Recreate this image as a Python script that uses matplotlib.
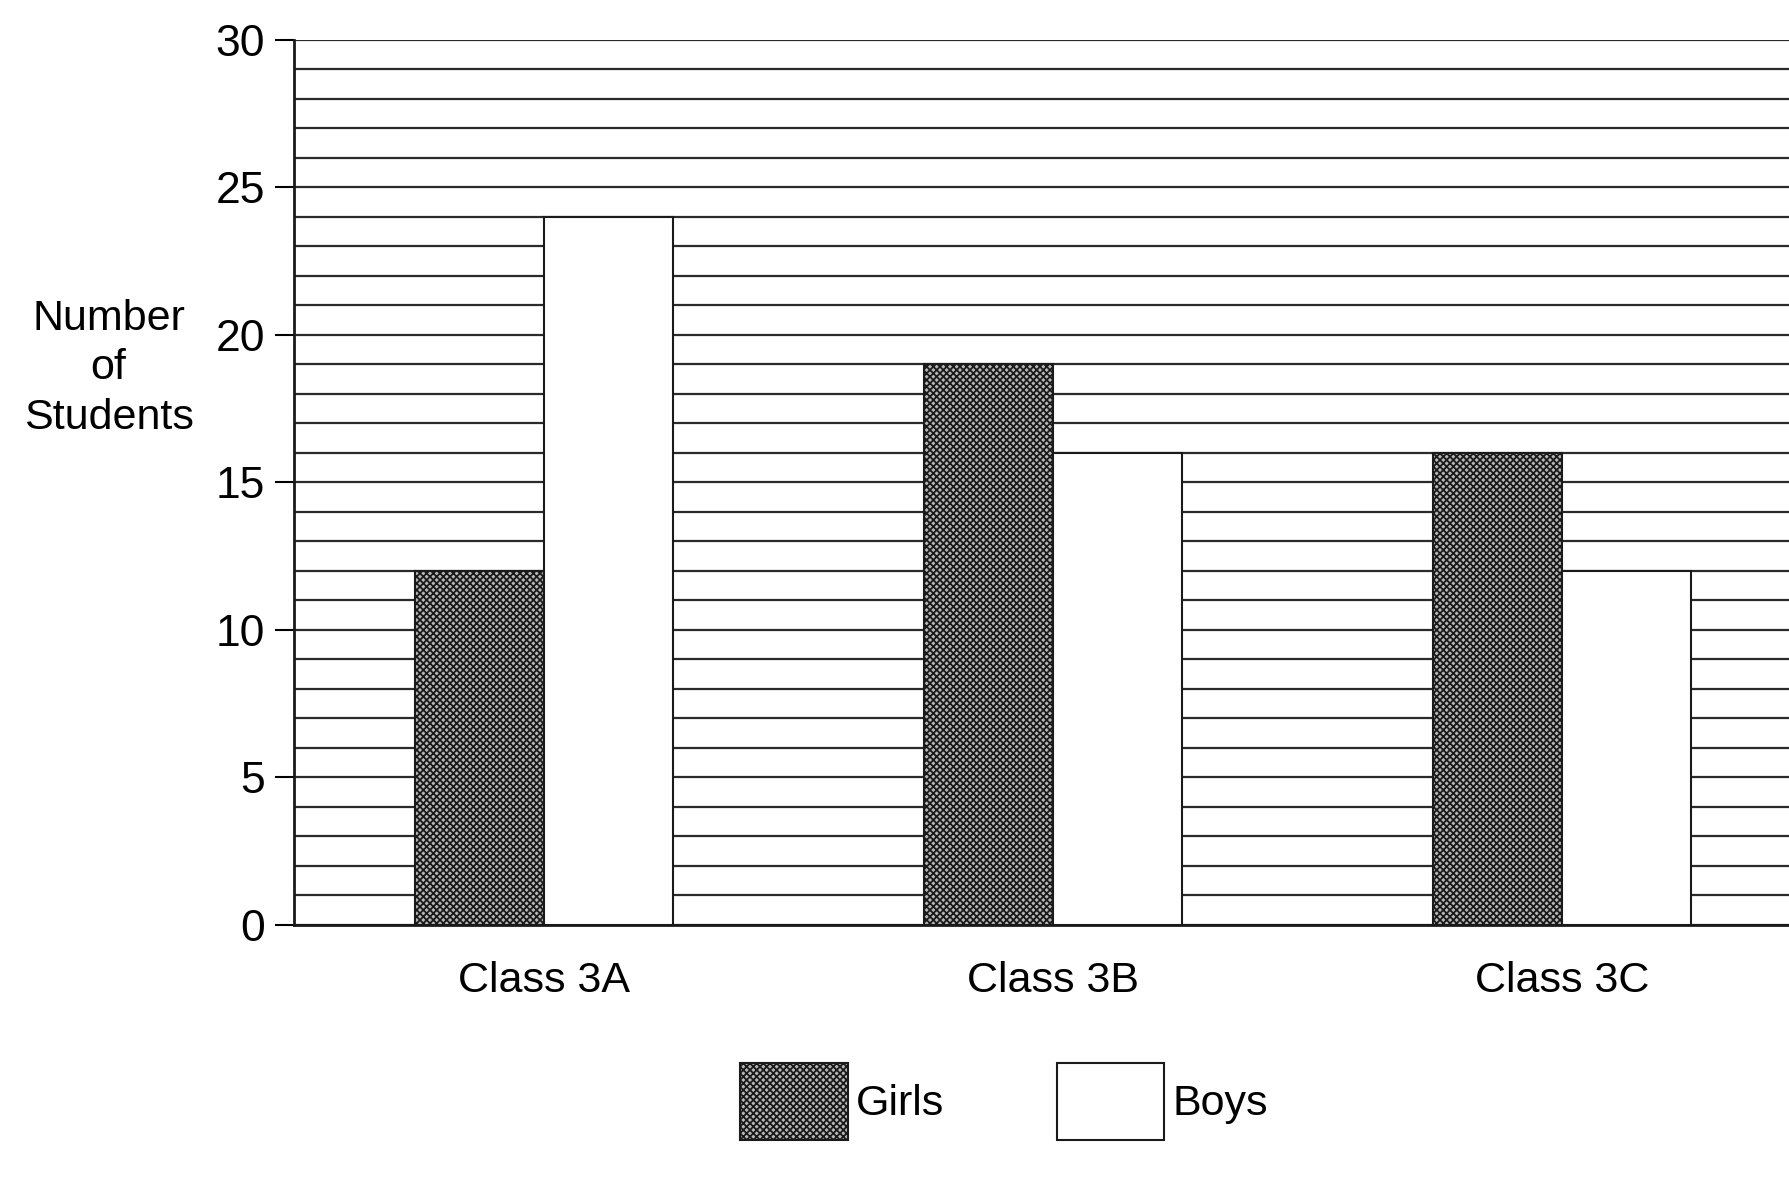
import numpy as np
import matplotlib
matplotlib.use("Agg")
import matplotlib.pyplot as plt
from matplotlib.ticker import MultipleLocator

categories = ["Class 3A", "Class 3B", "Class 3C"]
girls = [12, 19, 16]
boys = [24, 16, 12]
series_names = ["Girls", "Boys"]
y_ticks = [0, 5, 10, 15, 20, 25, 30]

plt.rcParams['font.family'] = ['Liberation Sans', 'DejaVu Sans']
plt.rcParams['hatch.linewidth'] = 1.3

fig = plt.figure(figsize=(17.9, 11.96), dpi=100)
ax = fig.add_axes([0.1645, 0.227, 0.8476, 0.7396])

x = np.arange(len(categories))
w = 0.253

ax.set_xlim(-0.49, 2.49)
ax.set_ylim(0, 30)
ax.yaxis.set_minor_locator(MultipleLocator(1))
ax.set_yticks(y_ticks)
ax.grid(which='both', axis='y', color='#2a2a2a', lw=1.6)
ax.set_axisbelow(True)

b1 = ax.bar(x - w / 2, girls, w, facecolor='#b8b8b8', edgecolor='#1a1a1a',
            hatch='xxxxx', lw=1.5, label=series_names[0], zorder=3)
b2 = ax.bar(x + w / 2, boys, w, facecolor='white', edgecolor='#1a1a1a',
            lw=1.5, label=series_names[1], zorder=3)

ax.set_xticks(x)
ax.set_xticklabels(categories, fontsize=31)
ax.tick_params(axis='x', length=0, pad=26)
ax.tick_params(axis='y', which='major', length=14, width=1.5, pad=7, labelsize=32)
ax.tick_params(axis='y', which='minor', length=0)

for s in ['top', 'right']:
    ax.spines[s].set_visible(False)
ax.spines['left'].set_linewidth(2)
ax.spines['bottom'].set_linewidth(2)
ax.spines['left'].set_color('#1a1a1a')
ax.spines['bottom'].set_color('#1a1a1a')

fig.text(0.0606, 0.692, "Number\nof\nStudents", ha='center', va='center',
         fontsize=31, linespacing=1.3)

fig.legend(handles=[b1, b2], labels=series_names, ncol=2, frameon=False,
           loc='center', bbox_to_anchor=(0.561, 0.079), fontsize=31,
           handlelength=2.5, handleheight=2.4, handletextpad=0.2,
           columnspacing=2.6)

fig.savefig("out.png", dpi=100)
